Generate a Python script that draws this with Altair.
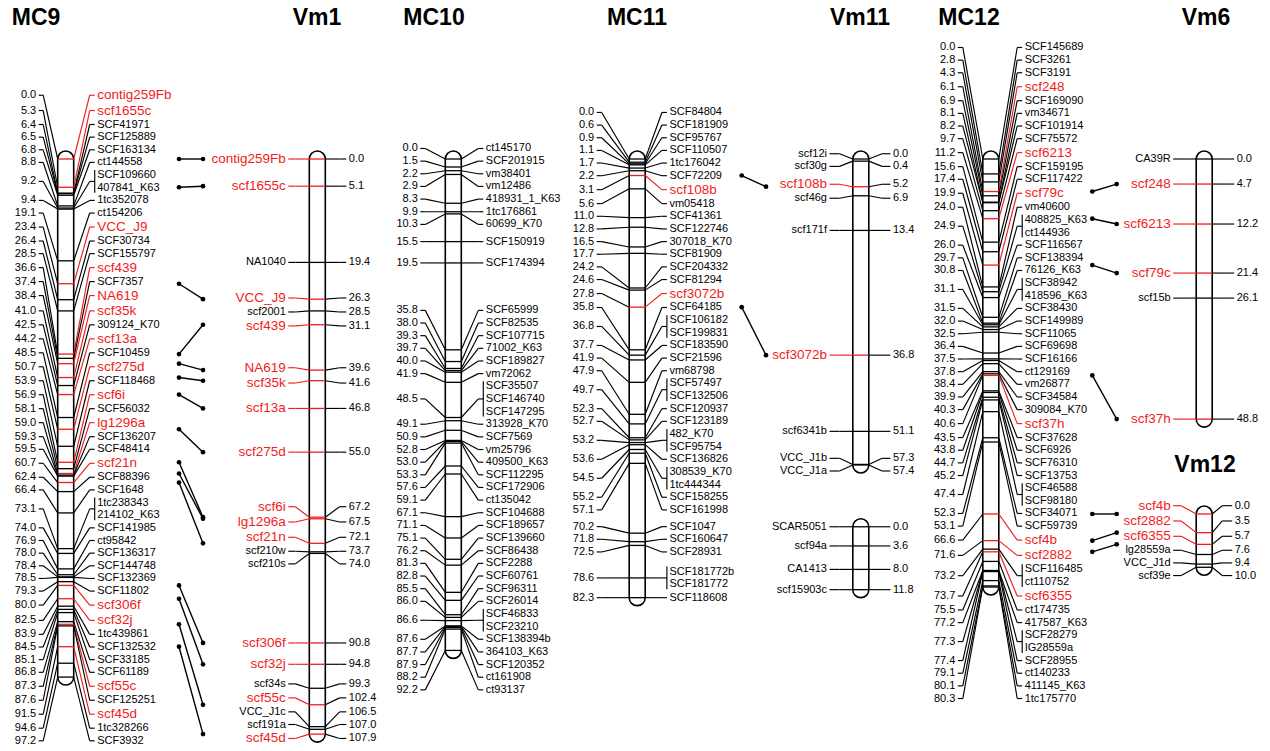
import altair as alt
import pandas as pd

# ------------------------------------------------------------------ data
MC9_CM = [0.0, 5.3, 6.4, 6.5, 6.8, 8.8, 9.2, 9.4, 19.1, 23.4, 26.4, 28.5, 36.6, 37.4, 38.4, 41.0,
          42.5, 44.2, 48.5, 50.7, 53.9, 56.9, 58.1, 59.0, 59.3, 59.5, 60.7, 62.4, 66.4, 73.1, 74.0,
          76.9, 78.0, 78.4, 78.5, 79.3, 80.0, 82.5, 83.9, 84.5, 85.1, 86.8, 87.3, 87.6, 91.5, 94.6, 97.2]
MC9_MARKERS = ["contig259Fb", "scf1655c", "SCF41971", "SCF125889", "SCF163134", "ct144558",
               "SCF109660|407841_K63", "1tc352078", "ct154206", "VCC_J9", "SCF30734", "SCF155797",
               "scf439", "SCF7357", "NA619", "scf35k", "309124_K70", "scf13a", "SCF10459", "scf275d",
               "SCF118468", "scf6i", "SCF56032", "lg1296a", "SCF136207", "SCF48414", "scf21n",
               "SCF88396", "SCF1648", "1tc238343|214102_K63", "SCF141985", "ct95842", "SCF136317",
               "SCF144748", "SCF132369", "SCF11802", "scf306f", "scf32j", "1tc439861", "SCF132532",
               "SCF33185", "SCF61189", "scf55c", "SCF125251", "scf45d", "1tc328266", "SCF3932"]

VM1_CM = [0.0, 5.1, 19.4, 26.3, 28.5, 31.1, 39.6, 41.6, 46.8, 55.0, 67.2, 67.5, 72.1, 73.7, 74.0,
          90.8, 94.8, 99.3, 102.4, 106.5, 107.0, 107.9]
VM1_MARKERS = ["contig259Fb", "scf1655c", "NA1040", "VCC_J9", "scf2001", "scf439", "NA619", "scf35k",
               "scf13a", "scf275d", "scf6i", "lg1296a", "scf21n", "scf210w", "scf210s", "scf306f",
               "scf32j", "scf34s", "scf55c", "VCC_J1c", "scf191a", "scf45d"]

MC10_CM = [0.0, 1.5, 2.2, 2.9, 8.3, 9.9, 10.3, 15.5, 19.5, 35.8, 38.0, 39.3, 39.7, 40.0, 41.9, 48.5,
           49.1, 50.9, 52.8, 53.0, 53.3, 57.6, 59.1, 67.1, 71.1, 75.1, 76.2, 81.3, 82.8, 85.5, 86.0,
           86.6, 87.6, 87.7, 87.9, 88.2, 92.2]
MC10_MARKERS = ["ct145170", "SCF201915", "vm38401", "vm12486", "418931_1_K63", "1tc176861",
                "60699_K70", "SCF150919", "SCF174394", "SCF65999", "SCF82535", "SCF107715",
                "71002_K63", "SCF189827", "vm72062", "SCF35507|SCF146740|SCF147295", "313928_K70",
                "SCF7569", "vm25796", "409500_K63", "SCF112295", "SCF172906", "ct135042",
                "SCF104688", "SCF189657", "SCF139660", "SCF86438", "SCF2288", "SCF60761",
                "SCF96311", "SCF26014", "SCF46833|SCF23210", "SCF138394b", "364103_K63",
                "SCF120352", "ct161908", "ct93137"]

MC11_CM = [0.0, 0.6, 0.9, 1.1, 1.7, 2.2, 3.1, 5.6, 11.0, 12.8, 16.5, 17.7, 24.2, 24.6, 27.8, 35.8,
           36.8, 37.7, 41.9, 47.9, 49.7, 52.3, 52.7, 53.2, 53.6, 54.5, 55.2, 57.1, 70.2, 71.8, 72.5,
           78.6, 82.3]
MC11_MARKERS = ["SCF84804", "SCF181909", "SCF95767", "SCF110507", "1tc176042", "SCF72209",
                "scf108b", "vm05418", "SCF41361", "SCF122746", "307018_K70", "SCF81909",
                "SCF204332", "SCF81294", "scf3072b", "SCF64185", "SCF106182|SCF199831",
                "SCF183590", "SCF21596", "vm68798", "SCF57497|SCF132506", "SCF120937",
                "SCF123189", "482_K70|SCF95754", "SCF136826", "308539_K70|1tc444344", "SCF158255",
                "SCF161998", "SCF1047", "SCF160647", "SCF28931", "SCF181772b|SCF181772",
                "SCF118608"]

VM11A_CM = [0.0, 0.4, 5.2, 6.9, 13.4, 36.8, 51.1, 57.3, 57.4]
VM11A_MARKERS = ["scf12i", "scf30g", "scf108b", "scf46g", "scf171f", "scf3072b", "scf6341b",
                 "VCC_J1b", "VCC_J1a"]
VM11B_CM = [0.0, 3.6, 8.0, 11.8]
VM11B_MARKERS = ["SCAR5051", "scf94a", "CA1413", "scf15903c"]

MC12_CM = [0.0, 2.8, 4.3, 6.1, 6.9, 8.1, 8.2, 9.7, 11.2, 15.6, 17.4, 19.9, 24.0, 24.9, 26.0, 29.7,
           30.8, 31.1, 31.5, 32.0, 32.5, 36.4, 37.5, 37.8, 38.4, 39.9, 40.3, 40.6, 43.5, 43.8, 44.7,
           45.2, 47.4, 52.3, 53.1, 66.6, 71.6, 73.2, 73.7, 75.5, 77.2, 77.3, 77.4, 79.1, 80.1, 80.3]
MC12_MARKERS = ["SCF145689", "SCF3261", "SCF3191", "scf248", "SCF169090", "vm34671", "SCF101914",
                "SCF75572", "scf6213", "SCF159195", "SCF117422", "scf79c", "vm40600",
                "408825_K63|ct144936", "SCF116567", "SCF138394", "76126_K63",
                "SCF38942|418596_K63", "SCF38430", "SCF149989", "SCF11065", "SCF69698",
                "SCF16166", "ct129169", "vm26877", "SCF34584", "309084_K70", "scf37h", "SCF37628",
                "SCF6926", "SCF76310", "SCF13753", "SCF46588|SCF98180", "SCF34071", "SCF59739",
                "scf4b", "scf2882", "SCF116485|ct110752", "scf6355", "ct174735", "417587_K63",
                "SCF28279|IG28559a", "SCF28955", "ct140233", "411145_K63", "1tc175770"]

VM6_CM = [0.0, 4.7, 12.2, 21.4, 26.1, 48.8]
VM6_MARKERS = ["CA39R", "scf248", "scf6213", "scf79c", "scf15b", "scf37h"]

VM12_CM = [0.0, 3.5, 5.7, 7.6, 9.4, 10.0]
VM12_MARKERS = ["scf4b", "scf2882", "scf6355", "lg28559a", "VCC_J1d", "scf39e"]

LINKS = [
    ("MC9", "Vm1", ["contig259Fb", "scf1655c", "VCC_J9", "scf439", "NA619", "scf35k", "scf13a",
                    "scf275d", "scf6i", "lg1296a", "scf21n", "scf306f", "scf32j", "scf55c", "scf45d"]),
    ("MC11", "Vm11", ["scf108b", "scf3072b"]),
    ("MC12", "Vm6", ["scf248", "scf6213", "scf79c", "scf37h"]),
    ("MC12", "Vm12", ["scf4b", "scf2882", "scf6355"]),
]

# (key, title, positions, markers, side that carries the numbers)
MAPS = [
    ("MC9", "MC9", MC9_CM, MC9_MARKERS, "left"),
    ("Vm1", "Vm1", VM1_CM, VM1_MARKERS, "right"),
    ("MC10", "MC10", MC10_CM, MC10_MARKERS, "left"),
    ("MC11", "MC11", MC11_CM, MC11_MARKERS, "left"),
    ("Vm11", "Vm11", VM11A_CM, VM11A_MARKERS, "right"),
    ("Vm11b", "", VM11B_CM, VM11B_MARKERS, "right"),
    ("MC12", "MC12", MC12_CM, MC12_MARKERS, "left"),
    ("Vm6", "Vm6", VM6_CM, VM6_MARKERS, "right"),
    ("Vm12", "Vm12", VM12_CM, VM12_MARKERS, "right"),
]

# ------------------------------------------------------------------ layout / style
W, H = 1270, 751
Y0, K = 159.0, 5.33          # pixel of 0 cM and pixels per cM
HW = 8.0                     # chromosome half width (px)
CAP = 1.5                    # chromosome end cap (cM)
GAP = 2.5
ROW_BLACK, ROW_RED = 12.65 / K, 15.3 / K
BRACKET_EXT = 5.0 / K
RED, BLACK = "#f21c1c", "#000000"
FONT = "Liberation Sans"

LAYOUT = {
    "MC9":   dict(cx=65.7,   off=0.0,  ld=14.5, lt=4.5, rd=16.0, rt=5.0, title=(36, 18)),
    "Vm1":   dict(cx=317.3,  off=0.0,  ld=14.0, lt=7.0, rd=14.3, rt=6.7, title=(317, 18)),
    "MC10":  dict(cx=453.3,  off=0.0,  ld=20.0, lt=5.0, rd=17.0, rt=5.0, title=(434, 18)),
    "MC11":  dict(cx=637.2,  off=0.0,  ld=27.5, lt=5.0, rd=16.7, rt=5.0, title=(637, 18)),
    "Vm11":  dict(cx=860.8,  off=0.0,  ld=13.3, lt=10.0, rd=13.3, rt=8.3, title=(860, 18)),
    "Vm11b": dict(cx=860.8,  off=69.0, ld=13.3, lt=10.0, rd=13.3, rt=8.3, title=None),
    "MC12":  dict(cx=990.8,  off=0.0,  ld=20.0, lt=5.0, rd=18.4, rt=5.0, title=(969, 18)),
    "Vm6":   dict(cx=1204.2, off=0.0,  ld=12.0, lt=11.0, rd=12.0, rt=10.0, title=(1206, 18)),
    "Vm12":  dict(cx=1204.2, off=66.6, ld=15.0, lt=8.0, rd=10.0, rt=10.0, title=(1205, 465)),
}
LINK_X = {("MC9", "Vm1"): (179, 203), ("MC11", "Vm11"): (741.7, 766),
          ("MC12", "Vm6"): (1092.3, 1116.7), ("MC12", "Vm12"): (1092.3, 1116.7)}

RED_SET = set(n for _, _, names in LINKS for n in names)


def place_labels(pos, heights):
    """Evenly spaced label rows; overlapping clusters are merged and centred
    on the mid-range of their true positions."""
    blocks = [[i] for i in range(len(pos))]

    def lay(b):
        offs = [0.0]
        for a, c in zip(b[:-1], b[1:]):
            offs.append(offs[-1] + (heights[a] + heights[c]) / 2)
        mid = (pos[b[0]] + pos[b[-1]]) / 2
        return [mid - offs[-1] / 2 + o for o in offs]

    changed = True
    while changed:
        changed = False
        ys = [lay(b) for b in blocks]
        for k in range(len(blocks) - 1):
            need = (heights[blocks[k][-1]] + heights[blocks[k + 1][0]]) / 2
            if ys[k + 1][0] - ys[k][-1] < need - 1e-9:
                blocks[k] = blocks[k] + blocks[k + 1]
                del blocks[k + 1]
                changed = True
                break
    out = []
    for b in blocks:
        out += lay(b)
    return out


segs, txt_r, txt_l, rects, pts, titles = [], [], [], [], [], []
ypos = {}


def seg(x, x2, y, y2, color, sw):
    segs.append(dict(x=x, x2=x2, y=y, y2=y2, color=color, sw=sw))


for key, title, cms, markers, numside in MAPS:
    L = LAYOUT[key]
    cx, off = L["cx"], L["off"]
    ypos[key] = {}
    groups = [m.split("|") for m in markers]
    rowh = [[ROW_RED if n in RED_SET else ROW_BLACK for n in g] for g in groups]
    ent_h = [sum(r) for r in rowh]
    act = [c + off for c in cms]
    lab = place_labels(act, ent_h)
    rects.append(dict(x=cx - HW, x2=cx + HW, y=min(act) - CAP, y2=max(act) + CAP))
    if L["title"]:
        titles.append(dict(x=L["title"][0], y=(L["title"][1] - Y0) / K, text=title))

    xl_edge, xr_edge = cx - HW, cx + HW
    xl_te = xl_edge - L["ld"]; xl_ts = xl_te - L["lt"]; xl_txt = xl_ts - GAP
    xr_ts = xr_edge + L["rd"]; xr_te = xr_ts + L["rt"]; xr_txt = xr_te + GAP

    for i, (c, ya, yl) in enumerate(zip(cms, act, lab)):
        names = groups[i]
        for n in names:
            ypos[key][n] = ya
        red = any(n in RED_SET for n in names)
        col = RED if red else BLACK
        lc = BLACK if numside == "left" else col
        rc = col if numside == "left" else BLACK
        # marker line across the chromosome
        seg(xl_edge, xr_edge, ya, ya, col, 1.3)
        # left connector
        seg(xl_ts, xl_te, yl, yl, lc, 1.15)
        seg(xl_te, xl_edge, yl, ya, lc, 1.15)
        # right connector
        seg(xr_ts, xr_te, yl, yl, rc, 1.15)
        seg(xr_edge, xr_ts, ya, yl, rc, 1.15)
        num = f"{c:.1f}"
        # name rows
        tot = ent_h[i]
        rows, acc = [], yl - tot / 2
        for n, h in zip(names, rowh[i]):
            rows.append(acc + h / 2)
            acc += h
        if numside == "left":
            txt_r.append(dict(x=xl_txt, y=yl, text=num, color=BLACK, size=11))
            for n, yr in zip(names, rows):
                txt_l.append(dict(x=xr_txt, y=yr, text=n,
                                  color=RED if n in RED_SET else BLACK,
                                  size=13.5 if n in RED_SET else 11))
            if len(names) > 1:
                seg(xr_te, xr_te, rows[0] - BRACKET_EXT, rows[-1] + BRACKET_EXT, BLACK, 1.15)
        else:
            txt_l.append(dict(x=xr_txt, y=yl, text=num, color=BLACK, size=11))
            for n, yr in zip(names, rows):
                txt_r.append(dict(x=xl_txt, y=yr, text=n,
                                  color=RED if n in RED_SET else BLACK,
                                  size=13.5 if n in RED_SET else 11))

for a, b, names in LINKS:
    xa, xb = LINK_X[(a, b)]
    for n in names:
        ya, yb = ypos[a][n], ypos[b][n]
        seg(xa, xb, ya, yb, BLACK, 1.4)
        pts.append(dict(x=xa, y=ya))
        pts.append(dict(x=xb, y=yb))

XS = alt.Scale(domain=[0, W], range=[0, W], nice=False, zero=False)
YS = alt.Scale(domain=[-Y0 / K, (H - Y0) / K], reverse=True, nice=False, zero=False)
X = alt.X("x:Q", scale=XS, axis=None)
Y = alt.Y("y:Q", scale=YS, axis=None)

rect_layer = alt.Chart(pd.DataFrame(rects)).mark_rect(
    cornerRadius=8, fill="white", stroke="black", strokeWidth=1.6
).encode(x=X, x2="x2:Q", y=Y, y2="y2:Q")

seg_layer = alt.Chart(pd.DataFrame(segs)).mark_rule().encode(
    x=X, x2="x2:Q", y=Y, y2="y2:Q",
    color=alt.Color("color:N", scale=None),
    strokeWidth=alt.StrokeWidth("sw:Q", scale=None),
)

txt_r_layer = alt.Chart(pd.DataFrame(txt_r)).mark_text(
    align="right", baseline="middle", font=FONT
).encode(x=X, y=Y, text="text:N", color=alt.Color("color:N", scale=None),
         size=alt.Size("size:Q", scale=None))

txt_l_layer = alt.Chart(pd.DataFrame(txt_l)).mark_text(
    align="left", baseline="middle", font=FONT
).encode(x=X, y=Y, text="text:N", color=alt.Color("color:N", scale=None),
         size=alt.Size("size:Q", scale=None))

pt_layer = alt.Chart(pd.DataFrame(pts)).mark_circle(
    size=22, color="black", opacity=1
).encode(x=X, y=Y)

title_layer = alt.Chart(pd.DataFrame(titles)).mark_text(
    align="center", baseline="middle", font=FONT, fontSize=23, fontWeight="bold", color="black"
).encode(x=X, y=Y, text="text:N")

chart = alt.layer(rect_layer, seg_layer, pt_layer, txt_r_layer, txt_l_layer, title_layer).properties(
    width=W, height=H, padding=0, autosize=alt.AutoSizeParams(type="none"), background="white"
).configure_view(strokeWidth=0)

chart.save("out.html", embed_options={"renderer": "svg", "actions": False})
